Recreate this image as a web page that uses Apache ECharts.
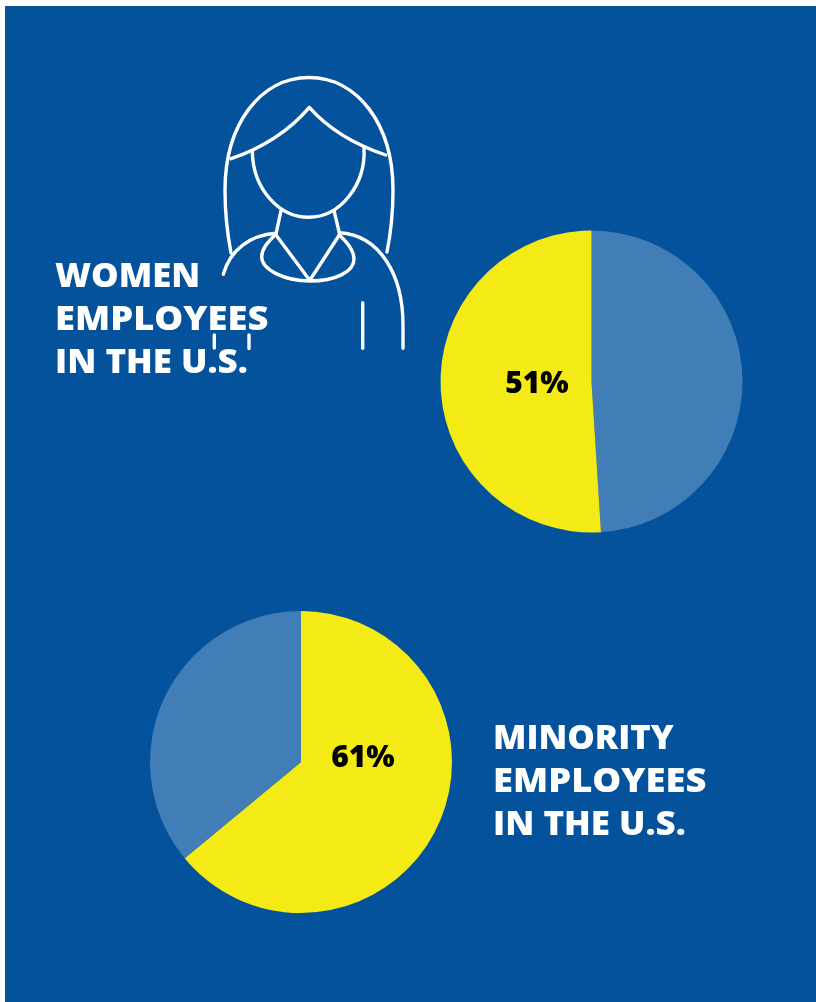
<!DOCTYPE html>
<html><head><meta charset="utf-8">
<style>html,body{margin:0;padding:0;background:#fff}#c{width:816px;height:1002px}</style>
<script src="https://cdn.jsdelivr.net/npm/echarts@6/dist/echarts.min.js"></script>
</head><body><div id="c"></div>
<script>
const womenNames = ['Other', 'Women'];
const womenValues = [49, 51];
const womenLabel = '51%';
// Slice sizes as drawn in the picture; the printed label is 61%, the drawn wedge is about 64%.
const minorityNames = ['Minority', 'Other'];
const minorityValues = [64, 36];
const minorityLabel = '61%';
const womenTitle = ['WOMEN', 'EMPLOYEES', 'IN THE U.S.'];
const minorityTitle = ['MINORITY', 'EMPLOYEES', 'IN THE U.S.'];
const womenTitleStretch = [1.036, 1.086, 1.043];
const minorityTitleStretch = [1.032, 1.086, 1.043];
const BG = '#03529b', BLUE = '#417db6', YELLOW = '#f3ea16';
const FONT = '"Open Sans","Noto Sans",sans-serif';

const iconPaths = [
  'M231 253 C227 232 225 210 225 190 C225 125 260 77.5 309 77.5 C358 77.5 393 125 393 190 C393 210 391 232 387 252',
  'M231 158.7 C265 147 290 130 309.3 107.3 C325 125 350 143 385.7 155',
  'M252.3 151.5 C253 190 280 217.3 308.5 217.3 C340 217.3 366 185 364 148',
  'M281 210.7 L276 234', 'M334 210.7 L339.3 232.7',
  'M223.3 274.3 C230 250 250 235 276 233.3',
  'M339.3 232.7 C380 235 403 275 403 325 L403 348.3',
  'M276 235 L309.5 280', 'M339.3 235 L310 280',
  'M275 235 C267 243 261.7 249 261.7 257 C262 270 285 281 310 281 C335 281 354 272 354 259 C354 250 347 242 339.3 235',
  'M362.7 302.7 L362.7 348.3', 'M214.3 335 L214.3 348', 'M249 335 L249 348.5'
];

function textBlock(lines, stretch, x, y0) {
  return lines.map((t, i) => ({
    type: 'text', x: x, y: y0 + i * 43, scaleX: stretch[i],
    style: { text: t, fill: '#fff', font: '800 33.5px ' + FONT, verticalAlign: 'middle' },
    z: 5
  }));
}

function pie(names, values, highlight, text, center, lx, ly) {
  return {
    type: 'pie', center: center, radius: [0, 151], startAngle: 90, clockwise: true,
    silent: true, animation: false, avoidLabelOverlap: false,
    label: { show: false }, labelLine: { show: false },
    labelLayout: { x: lx, y: ly, align: 'center', verticalAlign: 'middle', hideOverlap: false },
    data: values.map((v, i) => ({
      name: names[i], value: v,
      itemStyle: { color: i === highlight ? YELLOW : BLUE },
      label: i === highlight ? {
        show: true, position: 'inside', formatter: text,
        color: '#000', fontFamily: FONT, fontWeight: 800, fontSize: 30
      } : { show: false }
    }))
  };
}

const iconSeries = {
  type: 'custom', coordinateSystem: 'none', silent: true, animation: false, z: 4,
  data: iconPaths.map((d, i) => [i]),
  renderItem: (params) => ({
    type: 'path',
    shape: { pathData: iconPaths[params.dataIndex] },
    style: { fill: null, stroke: '#fff', lineWidth: 3.4, lineCap: 'round', lineJoin: 'round' }
  })
};

const chart = echarts.init(document.getElementById('c'), null, { renderer: 'canvas' });
chart.setOption({
  backgroundColor: '#fff',
  animation: false,
  graphic: [
    { type: 'rect', shape: { x: 5, y: 6, width: 811, height: 996 }, style: { fill: BG }, z: -10 },
    ...textBlock(womenTitle, womenTitleStretch, 55, 277),
    ...textBlock(minorityTitle, minorityTitleStretch, 493, 739)
  ],
  series: [
    pie(womenNames, womenValues, 1, womenLabel, [591.5, 381.5], 537, 384),
    pie(minorityNames, minorityValues, 0, minorityLabel, [301, 762], 363, 758),
    iconSeries
  ]
});
</script></body></html>
